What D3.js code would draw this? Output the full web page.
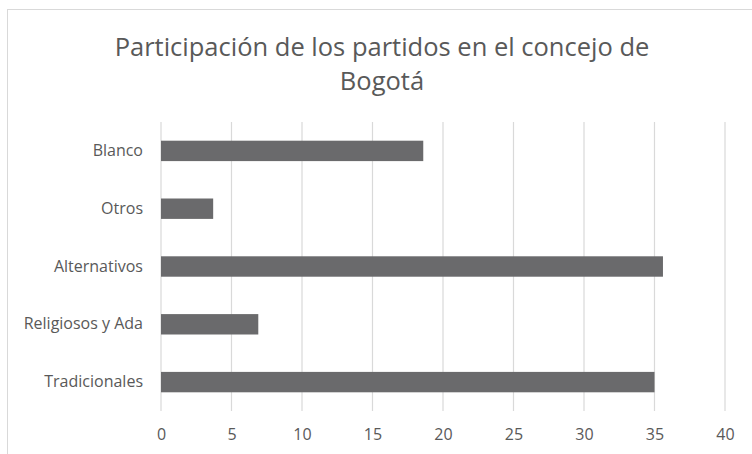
<!DOCTYPE html>
<html>
<head>
<meta charset="utf-8">
<script src="https://cdn.jsdelivr.net/npm/d3@7"></script>
<style>
  body { margin: 0; background: #fff; }
  text { font-family: "Open Sans", "Noto Sans", sans-serif; fill: #595959; }
</style>
</head>
<body>
<div id="chart"></div>
<script>
// data
const categories = ["Blanco", "Otros", "Alternativos", "Religiosos y Ada", "Tradicionales"];
const values = [18.6, 3.7, 35.6, 6.9, 35.0];
const xTicks = [0, 5, 10, 15, 20, 25, 30, 35, 40];
const titleLines = ["Participación de los partidos en el concejo de", "Bogotá"];

const W = 752, H = 454;
const margin = { left: 161, right: 27, top: 122, bottom: 43 };
const width = W - margin.left - margin.right;
const height = H - margin.top - margin.bottom;

const svg = d3.select("#chart").append("svg")
  .attr("width", W)
  .attr("height", H);

// chart frame
svg.append("rect")
  .attr("x", 7.5).attr("y", 9.5)
  .attr("width", W).attr("height", H)
  .attr("fill", "none")
  .attr("stroke", "#d9d9d9")
  .attr("stroke-width", 1);

// title
svg.append("g").selectAll("text")
  .data(titleLines)
  .enter().append("text")
  .attr("x", 382)
  .attr("y", (d, i) => 56 + i * 34)
  .attr("text-anchor", "middle")
  .attr("font-size", "25.5px")
  .text(d => d);

const g = svg.append("g")
  .attr("transform", "translate(" + margin.left + "," + margin.top + ")");

const x = d3.scaleLinear().domain([0, 40]).range([0, width]);
const y = d3.scaleBand().domain(categories).range([0, height]).paddingInner(0.647).paddingOuter(0.3235);

// gridlines
g.selectAll(".grid")
  .data(xTicks)
  .enter().append("line")
  .attr("class", "grid")
  .attr("x1", d => x(d)).attr("x2", d => x(d))
  .attr("y1", 0).attr("y2", height)
  .attr("stroke", "#d9d9d9")
  .attr("stroke-width", 1.2);

// bars
g.selectAll(".bar")
  .data(values)
  .enter().append("rect")
  .attr("class", "bar")
  .attr("x", x(0))
  .attr("y", (d, i) => y(categories[i]))
  .attr("width", d => x(d) - x(0))
  .attr("height", y.bandwidth())
  .attr("fill", "#6a6a6c");

// x axis
const xAxis = g.append("g")
  .attr("transform", "translate(0," + height + ")")
  .call(d3.axisBottom(x).tickValues(xTicks).tickSize(0).tickPadding(18));
xAxis.select(".domain").remove();
xAxis.selectAll("text").attr("font-size", "16px").style("font-family", null).attr("fill", null);

// y axis
const yAxis = g.append("g")
  .call(d3.axisLeft(y).tickSize(0).tickPadding(18));
yAxis.select(".domain").remove();
yAxis.selectAll("text").attr("font-size", "16px").style("font-family", null).attr("fill", null);
</script>
</body>
</html>
